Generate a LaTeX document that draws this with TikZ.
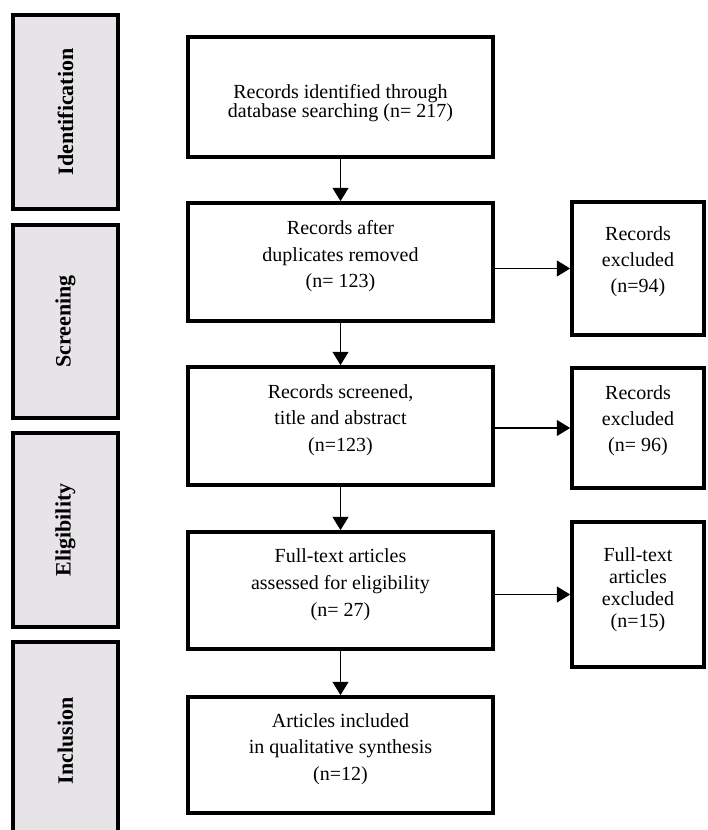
\documentclass[tikz,border=0pt]{standalone}
\usepackage{fontspec}
\setmainfont{Liberation Serif}
\usetikzlibrary{arrows.meta}
\definecolor{stagegray}{RGB}{231,228,232}
\begin{document}
\begin{tikzpicture}[x=0.75pt,y=-0.75pt,
  mainbox/.style={draw, line width=2.8pt, align=center, inner sep=0pt,
    minimum width=228.75pt, font=\fontsize{15}{20}\selectfont},
  exbox/.style={draw, line width=2.8pt, align=center, inner sep=0pt,
    minimum width=99pt, font=\fontsize{15}{19.5}\selectfont},
  stagebox/.style={draw, line width=2.8pt, fill=stagegray, inner sep=0pt,
    minimum width=78.75pt},
  stagetext/.style={rotate=90, font=\fontsize{16.5}{18}\selectfont\bfseries},
  flow/.style={line width=0.8pt, -{Triangle[length=10pt,width=12pt]}}
]
\useasboundingbox (0,0) rectangle (707,830);

% stage boxes
\node[stagebox, minimum height=145.5pt] (sid) at (65.5,112) {};
\node[stagetext] (tid) at (sid.center) {Identification};
\node[stagebox, minimum height=144.75pt] (ssc) at (65.5,321.5) {};
\node[stagetext] (tsc) at (ssc.center) {Screening};
\node[stagebox, minimum height=145.5pt] (sel) at (65.5,530) {};
\node[stagetext] (tel) at (sel.center) {Eligibility};
\node[stagebox, minimum height=148.5pt] (sin) at (65.5,741) {};
\node[stagetext] (tin) at (sin.center) {Inclusion};

% main boxes
\node[mainbox, minimum height=90pt, font=\fontsize{15}{14.5}\selectfont] (b1) at (340.5,97)
  {\rule{0pt}{19.5pt}Records identified through\\database searching (n= 217)};
\node[mainbox, minimum height=88.5pt] (b2) at (340.5,262)
  {Records after\\duplicates removed\\(n= 123)\\[-8pt]};
\node[mainbox, minimum height=88.5pt] (b3) at (340.5,426)
  {Records screened,\\title and abstract\\(n=123)\\[-8pt]};
\node[mainbox, minimum height=87.75pt] (b4) at (340.5,590.5)
  {Full-text articles\\assessed for eligibility\\(n= 27)\\[-8pt]};
\node[mainbox, minimum height=87pt] (b5) at (340.5,755)
  {Articles included\\in qualitative synthesis\\(n=12)\\[-8pt]};

% exclusion boxes
\node[exbox, minimum height=99.75pt] (e1) at (638,268.5)
  {Records\\excluded\\(n=94)\\[-6pt]};
\node[exbox, minimum height=90pt] (e2) at (638,428)
  {Records\\excluded\\(n= 96)\\[-6pt]};
\node[exbox, minimum height=108.75pt, font=\fontsize{15}{16.5}\selectfont] (e3) at (638,594.5)
  {Full-text\\articles\\excluded\\(n=15)\\[-6pt]};

% connectors
\draw[flow] (b1) -- (b2);
\draw[flow] (b2) -- (b3);
\draw[flow] (b3) -- (b4);
\draw[flow] (b4) -- (b5);
\draw[flow] (b2.east |- e1.west) -- (e1.west);
\draw[flow] (b3.east |- e2.west) -- (e2.west);
\draw[flow] (b4.east |- e3.west) -- (e3.west);
\end{tikzpicture}
\end{document}
